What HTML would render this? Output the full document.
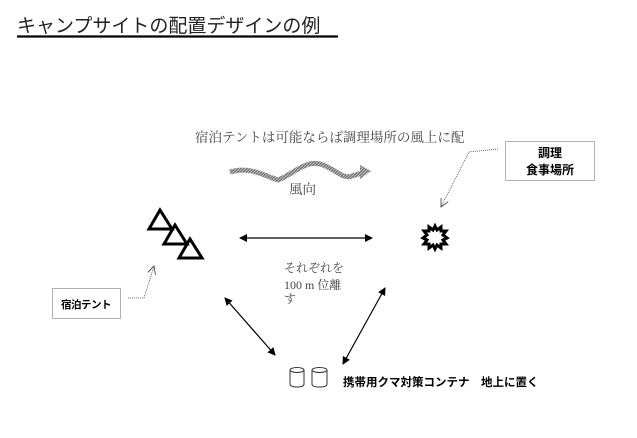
<!DOCTYPE html>
<html><head><meta charset="utf-8"><style>
html,body{margin:0;padding:0;background:#fff;}
svg{display:block;}
.g{font-family:"Liberation Sans","Noto Sans CJK JP",sans-serif;}
.m{font-family:"Liberation Serif","Noto Serif CJK SC",serif;fill:#444;}
</style></head><body>
<svg width="637" height="438" viewBox="0 0 637 438" xmlns="http://www.w3.org/2000/svg">
<defs>
<marker id="a" markerWidth="8" markerHeight="8" refX="7" refY="4" orient="auto-start-reverse" markerUnits="userSpaceOnUse"><path d="M0,0 L8,4 L0,8 z" fill="#000"/></marker>
<marker id="o" markerWidth="10" markerHeight="10" refX="9" refY="5" orient="auto" markerUnits="userSpaceOnUse"><path d="M1,1 L9,5 L1,9" fill="none" stroke="#333" stroke-width="0.8"/></marker>
<pattern id="h" width="3" height="3" patternUnits="userSpaceOnUse"><rect width="3" height="3" fill="#777"/><path d="M0,3 L3,0" stroke="#ccc" stroke-width="0.8"/></pattern>
</defs>
<text x="17" y="32" class="g" font-size="19" fill="#222">キャンプサイトの配置デザインの例</text>
<line x1="17" y1="36.5" x2="338" y2="36.5" stroke="#000" stroke-width="2.2"/>

<text x="195" y="142" class="m" font-size="13.5">宿泊テントは可能ならば調理場所の風上に配</text>
<path d="M230,172 C250,166 265,176 278,180 C292,175 305,160 320,164 C335,168 342,180 352,176 L365,172" fill="none" stroke="url(#h)" stroke-width="5"/>
<path d="M360,165 L371,171 L360,179 z" fill="url(#h)"/>
<text x="289" y="194" class="m" font-size="13.5">風向</text>

<rect x="505.5" y="141.5" width="89" height="39" fill="none" stroke="#666" stroke-dasharray="1,1"/>
<text x="550" y="157" class="g" font-size="12" font-weight="bold" text-anchor="middle">調理</text>
<text x="550" y="174" class="g" font-size="12" font-weight="bold" text-anchor="middle">食事場所</text>
<path d="M498,149 L469,152 L441,207" fill="none" stroke="#444" stroke-width="0.8" stroke-dasharray="1,1" marker-end="url(#o)"/>

<g fill="none" stroke="#000" stroke-width="3">
<path d="M160,210 L149,229 L172,229 Z"/>
<path d="M175,225 L164,244 L187,244 Z"/>
<path d="M190,239 L179,258 L202,258 Z"/>
</g>
<line x1="240" y1="238" x2="372" y2="238" stroke="#000" stroke-width="1.2" marker-start="url(#a)" marker-end="url(#a)"/>
<path d="M435,226 L437,230 L441,227 L441,231 L446,231 L443,235 L447,238 L443,240 L446,244 L441,244 L441,248 L437,245 L435,249 L433,245 L429,248 L429,244 L424,244 L427,240 L423,238 L427,235 L424,231 L429,231 L429,227 L433,230 Z" fill="none" stroke="#000" stroke-width="3"/>

<text x="284" y="272" class="m" font-size="12">それぞれを</text>
<text x="284" y="289" class="m" font-size="12">100 m 位離</text>
<text x="284" y="303" class="m" font-size="12">す</text>

<rect x="52.5" y="288.5" width="68" height="30" fill="none" stroke="#666" stroke-dasharray="1,1"/>
<text x="61" y="308" class="g" font-size="10.5" font-weight="bold" letter-spacing="-0.5">宿泊テント</text>
<path d="M128,298 L144,298 L154,266" fill="none" stroke="#444" stroke-width="0.8" stroke-dasharray="1,1" marker-end="url(#o)"/>

<line x1="225" y1="298" x2="275" y2="355" stroke="#000" stroke-width="1.2" marker-start="url(#a)" marker-end="url(#a)"/>
<line x1="385" y1="288" x2="343" y2="364" stroke="#000" stroke-width="1.2" marker-start="url(#a)" marker-end="url(#a)"/>

<g fill="none" stroke="#333" stroke-width="1">
<path d="M290,370 L290,384 Q290,387 297,387 Q304,387 304,384 L304,370"/>
<ellipse cx="297" cy="370" rx="7" ry="2.5"/>
<path d="M312,370 L312,384 Q312,387 319.5,387 Q327,387 327,384 L327,370"/>
<ellipse cx="319.5" cy="370" rx="7.5" ry="2.5"/>
</g>
<text x="343" y="386" class="g" font-size="11.5" font-weight="bold">携帯用クマ対策コンテナ　地上に置く</text>
</svg>
</body></html>
